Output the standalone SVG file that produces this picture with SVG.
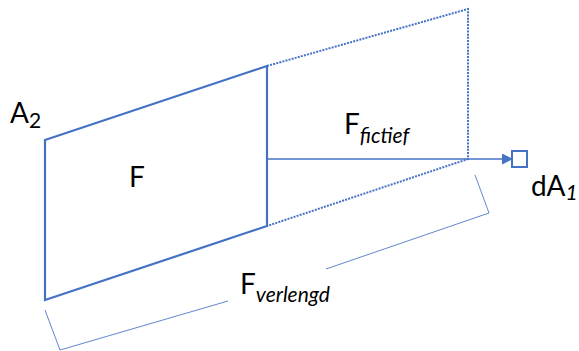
<svg xmlns="http://www.w3.org/2000/svg" width="579" height="351" viewBox="0 0 579 351">
<style>
.solid{fill:none;stroke:#4472C4;stroke-width:2.2;stroke-linejoin:miter}
.dot{fill:none;stroke:#4472C4;stroke-width:2;stroke-dasharray:2 1.2}
.thin{fill:none;stroke:#4472C4;stroke-width:1;opacity:0.85}
.t{font-family:Lato,"Open Sans","Liberation Sans",sans-serif;font-size:28px;fill:#000}
.s{font-size:21px}
.i{font-style:italic}
</style>
<defs>
<marker id="ah" markerWidth="11" markerHeight="11" refX="10" refY="5.5" orient="auto" markerUnits="userSpaceOnUse">
<path d="M0,0 L11,5.5 L0,11 z" fill="#4472C4"/>
</marker>
</defs>
<g id="extension">
<polyline class="dot" points="267,66 468,9 468,159 267,226"/>
</g>
<g id="surface-F">
<polygon class="solid" points="45,140 267,66 267,226 45,300"/>
<text class="t" x="129" y="187">F</text>
</g>
<g id="label-A2">
<text class="t" x="10" y="123">A<tspan class="s" dy="5">2</tspan></text>
</g>
<g id="label-Ffictief">
<text class="t" x="344" y="134">F<tspan class="s i" dy="9">fictief</tspan></text>
</g>
<g id="node-dA1">
<rect x="512" y="151" width="15" height="16" fill="#fff" stroke="#4472C4" stroke-width="2"/>
<text class="t" x="531" y="196">dA<tspan class="s i" dy="4">1</tspan></text>
</g>
<g id="label-Fverlengd">
<text class="t" x="240" y="294">F<tspan class="s i" dy="8">verlengd</tspan></text>
</g>
<g id="connectors">
<line x1="267" y1="159" x2="512" y2="159" stroke="#4472C4" stroke-width="1.3" marker-end="url(#ah)"/>
<polyline class="thin" points="45,310 60,350 228,301"/>
<polyline class="thin" points="475,175 489,213 326,269"/>
</g>
</svg>
